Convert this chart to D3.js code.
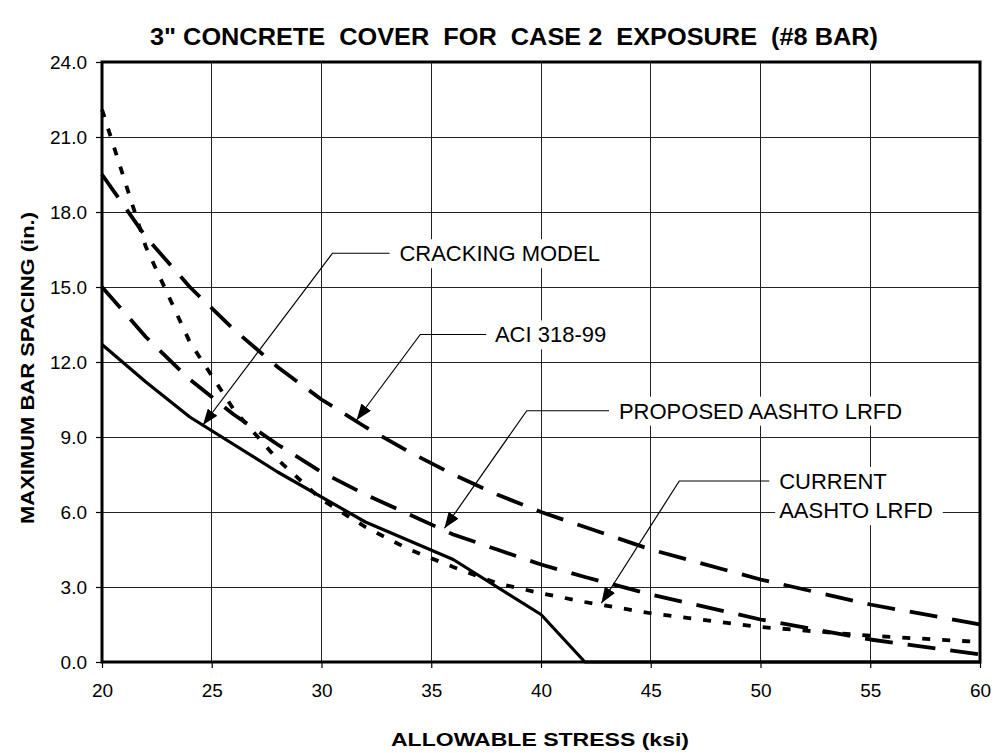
<!DOCTYPE html>
<html>
<head>
<meta charset="utf-8">
<script src="https://cdn.jsdelivr.net/npm/d3@7"></script>
<style>
  body { margin: 0; background: #fff; }
  text { font-family: "Liberation Sans", Arial, sans-serif; fill: #000; }
</style>
</head>
<body>
<svg id="chart" width="997" height="753"></svg>
<script>
// values
var stress   = [20, 22, 24, 26, 28, 30, 32, 34, 36, 38, 40, 42, 45, 50, 55, 60];
var aci      = [19.5, 17.0, 15.0, 13.3, 11.8, 10.5, 9.4, 8.4, 7.5, 6.7, 6.0, 5.4, 4.5, 3.3, 2.3, 1.5];
var proposed = [15.0, 13.0, 11.3, 9.9, 8.7, 7.6, 6.7, 5.9, 5.1, 4.5, 3.9, 3.4, 2.7, 1.7, 0.9, 0.3];
var current  = [22.1, 16.6, 12.8, 10.1, 8.1, 6.5, 5.4, 4.5, 3.8, 3.15, 2.75, 2.4, 1.95, 1.4, 1.05, 0.8];

var crackStress = [20, 22, 24, 28, 32, 36, 40, 42, 45, 50, 55, 60];
var cracking    = [12.7, 11.2, 9.8, 7.6, 5.6, 4.1, 1.9, 0, 0, 0, 0, 0];

var xTicks = [20, 25, 30, 35, 40, 45, 50, 55, 60];
var yTicks = [0, 3, 6, 9, 12, 15, 18, 21, 24];

// callout labels: arrow tip, elbow, and where the text starts (data units)
var notes = [
  {lines: ["CRACKING MODEL"], tip: [24.6, 9.48], elbow: [30.5, 16.35], lineEnd: 33.1, textX: 33.55},
  {lines: ["ACI 318-99"], tip: [31.6, 9.68], elbow: [34.5, 13.1], lineEnd: 37.5, textX: 37.9},
  {lines: ["PROPOSED AASHTO LRFD"], tip: [35.6, 5.35], elbow: [39.35, 10.05], lineEnd: 43.1, textX: 43.55},
  {lines: ["CURRENT", "AASHTO LRFD"], tip: [42.75, 2.35], elbow: [46.3, 7.24], lineEnd: 50.4, textX: 50.85}
];

var svg = d3.select("#chart");

var x = d3.scaleLinear().domain([20, 60]).range([102, 980]);
var y = d3.scaleLinear().domain([0, 24]).range([662, 62]);

// grid
svg.append("g").selectAll("line")
    .data(xTicks.slice(1, -1))
    .enter().append("line")
    .attr("x1", function(d) { return x(d); })
    .attr("x2", function(d) { return x(d); })
    .attr("y1", y(24)).attr("y2", y(0))
    .attr("stroke", "#222").attr("stroke-width", 1)
    .attr("shape-rendering", "crispEdges");

svg.append("g").selectAll("line")
    .data(yTicks.slice(1, -1))
    .enter().append("line")
    .attr("y1", function(d) { return y(d); })
    .attr("y2", function(d) { return y(d); })
    .attr("x1", x(20)).attr("x2", x(60))
    .attr("stroke", "#222").attr("stroke-width", 1)
    .attr("shape-rendering", "crispEdges");

// axes
var xAxis = svg.append("g")
    .attr("transform", "translate(0," + y(0) + ")")
    .call(d3.axisBottom(x).tickValues(xTicks).tickSize(6).tickPadding(16));
var yAxis = svg.append("g")
    .attr("transform", "translate(" + x(20) + ",0)")
    .call(d3.axisLeft(y).tickValues(yTicks).tickFormat(d3.format(".1f")).tickSize(6).tickPadding(9));

[xAxis, yAxis].forEach(function(a) {
  a.select(".domain").remove();
  a.selectAll(".tick line").attr("stroke", "#000").attr("stroke-width", 1.2);
  a.selectAll(".tick text").style("font-size", "19px").attr("fill", "#000")
      .style("font-family", '"Liberation Sans", Arial, sans-serif');
});

// callout boxes and text (under the data lines)
var noteG = svg.append("g");
notes.forEach(function(n) {
  var g = noteG.append("g");
  var t = g.append("text")
      .attr("x", x(n.textX))
      .attr("y", y(n.elbow[1]))
      .style("font-size", "22px");
  n.lines.forEach(function(s, i) {
    t.append("tspan")
        .attr("x", x(n.textX))
        .attr("dy", i == 0 ? "0.36em" : "1.33em")
        .text(s);
  });
  var b = t.node().getBBox();
  g.insert("rect", "text")
      .attr("x", b.x - 4).attr("y", b.y - 2)
      .attr("width", b.width + 14).attr("height", b.height + 4)
      .attr("fill", "#fff");
});

// series
function series(xs, ys) {
  return xs.map(function(d, i) { return [d, ys[i]]; });
}
var line = d3.line()
    .x(function(d) { return x(d[0]); })
    .y(function(d) { return y(d[1]); });

var lines = [
  {pts: series(stress, aci), dash: "28,15", w: 3.8},
  {pts: series(stress, proposed), dash: "28,15", w: 3.8},
  {pts: series(stress, current), dash: "8,12", w: 3.8},
  {pts: series(crackStress, cracking), dash: null, w: 3.2}
];

svg.append("g").selectAll("path")
    .data(lines)
    .enter().append("path")
    .attr("d", function(d) { return line(d.pts); })
    .attr("fill", "none")
    .attr("stroke", "#000")
    .attr("stroke-width", function(d) { return d.w; })
    .attr("stroke-dasharray", function(d) { return d.dash; })
    .attr("stroke-linejoin", "round");

// leaders with arrow heads
svg.append("defs").append("marker")
    .attr("id", "arrow")
    .attr("markerUnits", "userSpaceOnUse")
    .attr("markerWidth", 17).attr("markerHeight", 12)
    .attr("refX", 16).attr("refY", 6)
    .attr("orient", "auto")
  .append("path")
    .attr("d", "M0,0 L16,6 L0,12 Z")
    .attr("fill", "#000");

svg.append("g").selectAll("path")
    .data(notes)
    .enter().append("path")
    .attr("d", function(n) {
      return "M" + x(n.lineEnd) + "," + y(n.elbow[1]) +
             "L" + x(n.elbow[0]) + "," + y(n.elbow[1]) +
             "L" + x(n.tip[0]) + "," + y(n.tip[1]);
    })
    .attr("fill", "none")
    .attr("stroke", "#000")
    .attr("stroke-width", 1.2)
    .attr("marker-end", "url(#arrow)");

// plot frame
svg.append("rect")
    .attr("x", x(20)).attr("y", y(24))
    .attr("width", x(60) - x(20)).attr("height", y(0) - y(24))
    .attr("fill", "none").attr("stroke", "#000").attr("stroke-width", 3);

// titles
svg.append("text")
    .attr("x", 514).attr("y", 45)
    .attr("text-anchor", "middle")
    .attr("textLength", 728).attr("lengthAdjust", "spacingAndGlyphs")
    .style("font-weight", "bold").style("font-size", "24px")
    .style("white-space", "pre")
    .text('3" CONCRETE  COVER  FOR  CASE 2  EXPOSURE  (#8 BAR)');

svg.append("text")
    .attr("x", 540).attr("y", 746)
    .attr("text-anchor", "middle")
    .attr("textLength", 298).attr("lengthAdjust", "spacingAndGlyphs")
    .style("font-weight", "bold").style("font-size", "18px")
    .text("ALLOWABLE STRESS (ksi)");

svg.append("text")
    .attr("transform", "translate(34," + 368 + ") rotate(-90)")
    .attr("text-anchor", "middle")
    .attr("textLength", 312).attr("lengthAdjust", "spacingAndGlyphs")
    .style("font-weight", "bold").style("font-size", "18px")
    .text("MAXIMUM BAR SPACING (in.)");
</script>
</body>
</html>
